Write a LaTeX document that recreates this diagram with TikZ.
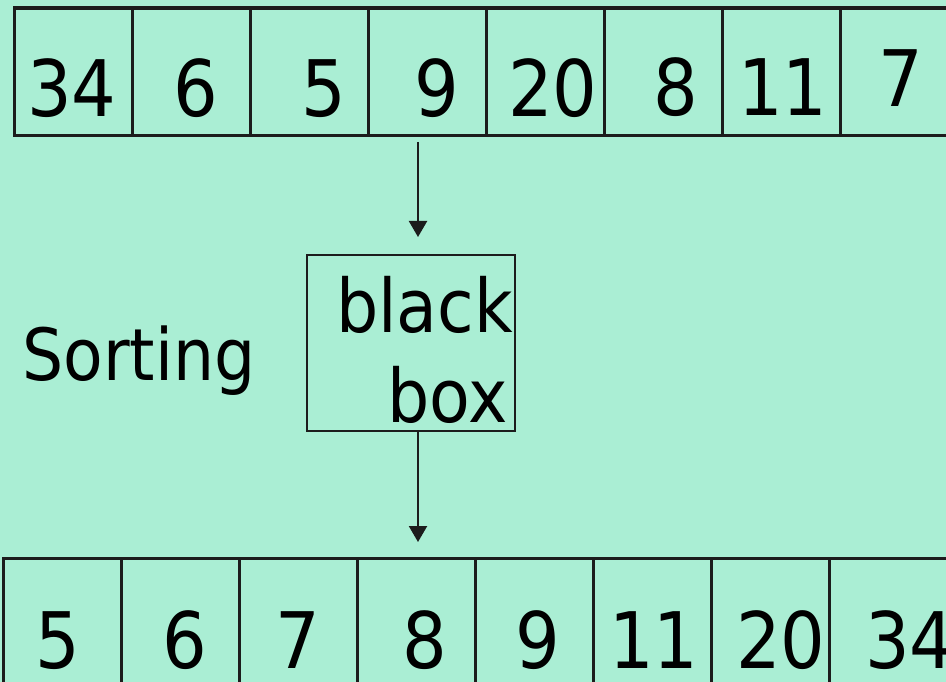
\documentclass[tikz,border=0pt]{standalone}
\usepackage{fontspec}
\setmainfont{DejaVu Sans}[FakeStretch=0.9]
\usetikzlibrary{arrows.meta}
\definecolor{mint}{RGB}{170,238,212}
\definecolor{ink}{RGB}{28,28,28}
\tikzset{
  cell/.style={draw=ink, line width=3.2pt, minimum width=118pt, minimum height=127.5pt,
               inner sep=0pt, anchor=north west},
  num/.style={anchor=base, inner sep=0pt, font=\fontsize{78}{80}\selectfont},
  word/.style={inner sep=0pt, font=\fontsize{74}{80}\selectfont},
  flow/.style={draw=ink, line width=2.2pt, -{Triangle[length=16pt,width=18pt]}},
  blackbox/.style={draw=ink, line width=1.6pt, inner sep=0pt, anchor=north west,
                   minimum width=208pt, minimum height=176pt}
}
\begin{document}
\begin{tikzpicture}[x=1pt,y=-1pt]
  \useasboundingbox (0,0) rectangle (946,682);
  \fill[mint] (0,0) rectangle (946,682);
  \begin{scope}
    \clip (0,0) rectangle (946,682);
    % unsorted input row
    \foreach \v [count=\i from 0] in {34,6,5,9,20,8,11,7}
      \node[cell] (in\i) at ({12.5+118*\i},6.5) {};
    \node[num] (t0) at (72,117) {34};
    \node[num] (t1) at (196,117) {6};
    \node[num] (t2) at (324,117) {5};
    \node[num] (t3) at (437,117) {9};
    \node[num] (t4) at (553,117) {20};
    \node[num] (t5) at (676,116) {8};
    \node[num] (t6) at (783,116) {11};
    \node[num] (t7) at (901,107) {7};
    % sorted output row
    \foreach \v [count=\i from 0] in {5,6,7,8,9,11,20,34}
      \node[cell, minimum height=150pt] (out\i) at ({2+118*\i},556.5) {};
    \node[num] (b0) at (58,668) {5};
    \node[num] (b1) at (185,668) {6};
    \node[num] (b2) at (298,668) {7};
    \node[num] (b3) at (425,668) {8};
    \node[num] (b4) at (538,668) {9};
    \node[num] (b5) at (654,668) {11};
    \node[num] (b6) at (781,668) {20};
    \node[num] (b7) at (910,668) {34};
  \end{scope}
  % the sorting black box
  \node[blackbox] (box) at (306,254) {};
  \node[word, anchor=base east] (w1) at (513,332) {black};
  \node[word, anchor=base east] (w2) at (508,422) {box};
  \node[word, anchor=base west, font=\fontsize{72}{80}\selectfont] (label) at (22,380) {Sorting};
  % arrows into and out of the box
  \coordinate (a1s) at (418,142);
  \coordinate (a1e) at (418,237);
  \coordinate (a2s) at (418,430);
  \coordinate (a2e) at (418,542);
  \draw[flow] (a1s) -- (a1e);
  \draw[flow] (a2s) -- (a2e);
\end{tikzpicture}
\end{document}
